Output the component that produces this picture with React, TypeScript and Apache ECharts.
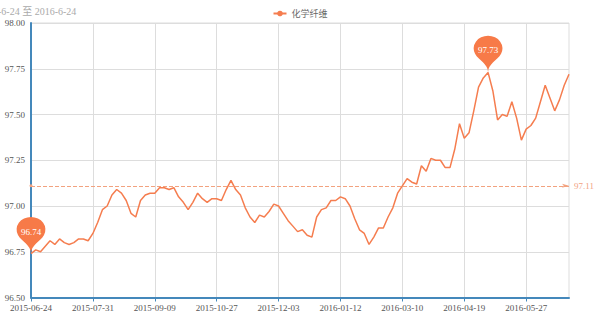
import React, { useEffect, useRef } from "react";
import * as echarts from "echarts";

const titleText = "2015-6-24 至 2016-6-24";
const seriesName = "化学纤维";

const dates = [
  "2015-06-24", "2015-06-26", "2015-06-30", "2015-07-02", "2015-07-06", "2015-07-08", "2015-07-10",
  "2015-07-14", "2015-07-16", "2015-07-20", "2015-07-22", "2015-07-24", "2015-07-28", "2015-07-31",
  "2015-08-04", "2015-08-06", "2015-08-10", "2015-08-12", "2015-08-14", "2015-08-18", "2015-08-20",
  "2015-08-24", "2015-08-26", "2015-08-28", "2015-09-01", "2015-09-07", "2015-09-09",
  "2015-09-11", "2015-09-15", "2015-09-17", "2015-09-21", "2015-09-23", "2015-09-25", "2015-09-29",
  "2015-10-09", "2015-10-13", "2015-10-15", "2015-10-19", "2015-10-22", "2015-10-27",
  "2015-10-29", "2015-11-02", "2015-11-04", "2015-11-06", "2015-11-10", "2015-11-12", "2015-11-16",
  "2015-11-18", "2015-11-20", "2015-11-24", "2015-11-26", "2015-11-30", "2015-12-03",
  "2015-12-07", "2015-12-09", "2015-12-11", "2015-12-15", "2015-12-17", "2015-12-21", "2015-12-23",
  "2015-12-25", "2015-12-29", "2015-12-31", "2016-01-06", "2016-01-08", "2016-01-12",
  "2016-01-15", "2016-01-19", "2016-01-22", "2016-01-26", "2016-01-29", "2016-02-02", "2016-02-05",
  "2016-02-17", "2016-02-19", "2016-02-24", "2016-02-29", "2016-03-04", "2016-03-10",
  "2016-03-14", "2016-03-16", "2016-03-18", "2016-03-22", "2016-03-24", "2016-03-28", "2016-03-30",
  "2016-04-01", "2016-04-06", "2016-04-08", "2016-04-12", "2016-04-14", "2016-04-19",
  "2016-04-21", "2016-04-25", "2016-04-27", "2016-04-29", "2016-05-04", "2016-05-06", "2016-05-10",
  "2016-05-12", "2016-05-16", "2016-05-18", "2016-05-20", "2016-05-24", "2016-05-27",
  "2016-05-31", "2016-06-02", "2016-06-06", "2016-06-08", "2016-06-13", "2016-06-15", "2016-06-17",
  "2016-06-21", "2016-06-24",
];

const values = [
  96.74, 96.76, 96.75, 96.78, 96.81, 96.79, 96.82, 96.80, 96.79, 96.80,
  96.82, 96.82, 96.81, 96.85, 96.91, 96.98, 97.00, 97.06, 97.09, 97.07,
  97.03, 96.96, 96.94, 97.03, 97.06, 97.07, 97.07, 97.10, 97.10, 97.09,
  97.10, 97.05, 97.02, 96.98, 97.02, 97.07, 97.04, 97.02, 97.04, 97.04,
  97.03, 97.09, 97.14, 97.09, 97.06, 96.99, 96.94, 96.91, 96.95, 96.94,
  96.97, 97.01, 97.00, 96.96, 96.92, 96.89, 96.86, 96.87, 96.84, 96.83,
  96.94, 96.98, 96.99, 97.03, 97.03, 97.05, 97.04, 97.00, 96.93, 96.87,
  96.85, 96.79, 96.83, 96.88, 96.88, 96.94, 96.99, 97.07, 97.11, 97.15,
  97.13, 97.12, 97.22, 97.19, 97.26, 97.25, 97.25, 97.21, 97.21, 97.31,
  97.45, 97.37, 97.40, 97.52, 97.65, 97.70, 97.73, 97.63, 97.47, 97.50,
  97.49, 97.57, 97.48, 97.36, 97.42, 97.44, 97.48, 97.57, 97.66, 97.59,
  97.52, 97.58, 97.66, 97.72,
];

const averageValue = 97.11;
const yMin = 96.5;
const yMax = 98;
const yStep = 0.25;
const labelEvery = 13;

const FONT = "'Liberation Serif', 'DejaVu Serif', 'Noto Sans CJK SC', serif";
const LINE_COLOR = "#f57d4f";
const AXIS_COLOR = "#4488bb";

export default function App() {
  const ref = useRef<HTMLDivElement>(null);
  useEffect(() => {
    document.body.style.margin = "0";
    const chart = echarts.init(ref.current!, null, { renderer: "svg" });
    chart.setOption({
      animation: false,
      backgroundColor: "#fff",
      title: {
        text: titleText,
        left: -27,
        top: 1,
        textStyle: { fontSize: 10, fontWeight: "normal", color: "#aaa", fontFamily: FONT },
      },
      legend: {
        data: [seriesName],
        top: 4,
        left: "center",
        itemWidth: 13,
        itemHeight: 7,
        itemGap: 6,
        textStyle: { fontSize: 9, color: "#666", fontFamily: FONT },
      },
      grid: {
        left: 31,
        right: 31,
        top: 23,
        bottom: 27.5,
        show: true,
        borderColor: "#ddd",
        borderWidth: 1,
      },
      xAxis: {
        type: "category",
        boundaryGap: false,
        data: dates,
        axisLine: { show: true, lineStyle: { color: AXIS_COLOR, width: 2 } },
        axisTick: { show: true, length: 4, interval: labelEvery - 1, lineStyle: { color: AXIS_COLOR } },
        axisLabel: {
          interval: labelEvery - 1,
          fontSize: 9,
          color: "#555",
          margin: 6,
          fontFamily: FONT,
        },
        splitLine: { show: true, interval: labelEvery - 1, lineStyle: { color: "#ddd", width: 1 } },
      },
      yAxis: {
        type: "value",
        min: yMin,
        max: yMax,
        interval: yStep,
        axisLine: { show: true, lineStyle: { color: AXIS_COLOR, width: 2 } },
        axisTick: { show: false },
        axisLabel: {
          fontSize: 9,
          color: "#555",
          margin: 6,
          fontFamily: FONT,
          formatter: (v: number) => v.toFixed(2),
        },
        splitLine: { show: true, lineStyle: { color: "#ddd", width: 1 } },
      },
      series: [
        {
          name: seriesName,
          type: "line",
          data: values,
          symbol: "circle",
          symbolSize: 5,
          showSymbol: false,
          itemStyle: { color: LINE_COLOR },
          lineStyle: { color: LINE_COLOR, width: 1.5 },
          markPoint: {
            symbol: "pin",
            symbolSize: [48, 42],
            itemStyle: { color: "#f77a48" },
            label: {
              color: "#fff",
              fontSize: 9,
              fontFamily: FONT,
              formatter: (p: any) => Number(p.value).toFixed(2),
            },
            data: [
              { type: "max", name: "最大值" },
              { type: "min", name: "最小值" },
            ],
          },
          markLine: {
            symbol: ["circle", "arrow"],
            symbolSize: [3, 7],
            silent: true,
            lineStyle: { type: "dashed", color: "#f2a27f", width: 1 },
            label: {
              position: "end",
              color: "#f2a27f",
              fontSize: 9,
              fontFamily: FONT,
              formatter: (p: any) => Number(p.value).toFixed(2),
            },
            data: [{ yAxis: averageValue, name: "平均值" }],
          },
        },
      ],
    });
    return () => chart.dispose();
  }, []);
  return <div ref={ref} style={{ width: 600, height: 325 }} />;
}
